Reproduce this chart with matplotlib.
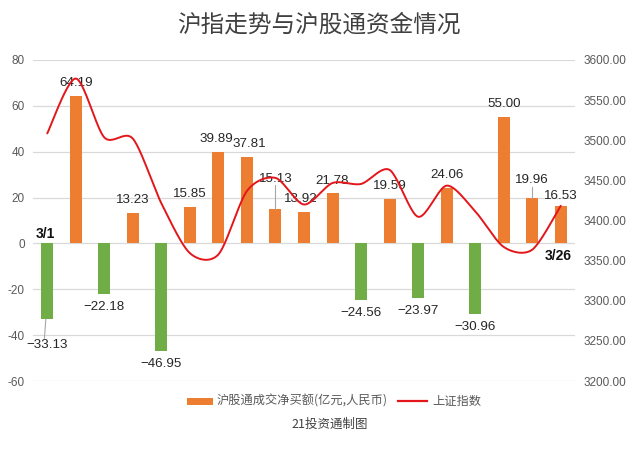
import numpy as np
import matplotlib
matplotlib.use("Agg")
import matplotlib.pyplot as plt
from matplotlib.patches import Rectangle
from matplotlib.lines import Line2D

plt.rcParams['font.family'] = ['Noto Sans CJK SC', 'DejaVu Sans']
plt.rcParams['axes.unicode_minus'] = False

# ---- data ----
flows = [-33.13, 64.19, -22.18, 13.23, -46.95, 15.85, 39.89, 37.81, 15.13, 13.92,
         21.78, -24.56, 19.59, -23.97, 24.06, -30.96, 55.00, 19.96, 16.53]
index_vals = [3508.59, 3576.90, 3503.49, 3501.99, 3421.41, 3359.29, 3357.74, 3436.83,
              3453.08, 3419.95, 3446.73, 3445.55, 3463.07, 3404.66, 3443.44, 3411.51,
              3367.06, 3363.59, 3418.33]
flow_labels = ["\u221233.13", "64.19", "\u221222.18", "13.23", "\u221246.95", "15.85", "39.89",
               "37.81", "15.13", "13.92", "21.78", "\u221224.56", "19.59", "\u221223.97",
               "24.06", "\u221230.96", "55.00", "19.96", "16.53"]
first_date = "3/1"
last_date = "3/26"
left_ticks = [-60, -40, -20, 0, 20, 40, 60, 80]
right_ticks = [3200, 3250, 3300, 3350, 3400, 3450, 3500, 3550, 3600]
title = "沪指走势与沪股通资金情况"
bar_name = "沪股通成交净买额(亿元,人民币)"
line_name = "上证指数"
source = "21投资通制图"

ORANGE = "#ED7D31"
GREEN = "#70AD47"
RED = "#E3161B"
GRID = "#D9D9D9"
TXT = "#595959"
NUM = ['Liberation Sans', 'DejaVu Sans']

W, H = 633, 450
fig = plt.figure(figsize=(W / 100, H / 100), dpi=100)
fig.patch.set_facecolor("white")
ax = fig.add_axes([33 / W, 69 / H, 542 / W, 321 / H])
ax2 = ax.twinx()

n = len(flows)
x = np.arange(n)
colors = [ORANGE if v >= 0 else GREEN for v in flows]
ax.bar(x, flows, width=0.42, color=colors, zorder=2)

ax.set_xlim(-0.5, n - 0.5)
ax.set_ylim(-60, 80)
ax.set_yticks(left_ticks)
ax.yaxis.grid(True, color=GRID, linewidth=0.9, zorder=0)
ax.set_axisbelow(True)
ax.set_xticks([])
for s in ax.spines.values():
    s.set_visible(False)
for s in ax2.spines.values():
    s.set_visible(False)
ax.tick_params(axis='y', length=0, labelsize=8.5, labelcolor=TXT, pad=6)
for t in ax.get_yticklabels():
    t.set_family(NUM)

# secondary axis
ax2.set_ylim(3200, 3600)
ax2.set_yticks(right_ticks)
ax2.set_yticklabels([f"{v:.2f}" for v in right_ticks])
ax2.tick_params(axis='y', length=0, labelsize=8.5, labelcolor=TXT, pad=6)
for t in ax2.get_yticklabels():
    t.set_family(NUM)

# smooth rendering of the index line (cardinal spline through the data points)
pts = np.array(index_vals, dtype=float)
xs, ys = [], []
P = np.concatenate([[pts[0]], pts, [pts[-1]]])
Xp = np.concatenate([[x[0]], x, [x[-1]]]).astype(float)
tau = 0.42
for i in range(1, len(P) - 2):
    t = np.linspace(0, 1, 24, endpoint=False)
    def seg(a0, a1, a2, a3):
        m1 = tau * (a2 - a0)
        m2 = tau * (a3 - a1)
        h00 = 2 * t ** 3 - 3 * t ** 2 + 1
        h10 = t ** 3 - 2 * t ** 2 + t
        h01 = -2 * t ** 3 + 3 * t ** 2
        h11 = t ** 3 - t ** 2
        return h00 * a1 + h10 * m1 + h01 * a2 + h11 * m2
    xs.extend(seg(Xp[i - 1], Xp[i], Xp[i + 1], Xp[i + 2]))
    ys.extend(seg(P[i - 1], P[i], P[i + 1], P[i + 2]))
xs.append(x[-1]); ys.append(pts[-1])
ax2.plot(xs, ys, color=RED, linewidth=1.4, zorder=3, solid_capstyle="round")

# data labels
for i, (v, lab) in enumerate(zip(flows, flow_labels)):
    if v >= 0:
        y = v + 3.0
        va = "bottom"
    else:
        y = v - 3.0
        va = "top"
    dx = 0
    if i == 0:
        y = v - 8.5
    if i == 6:
        dx = -0.06
    if i == 7:
        dx = 0.08
    if i == 8:
        y = v + 10.5
    if i == 9:
        dx = -0.1
    if i == 17:
        y = v + 5.0
    if i == 18:
        y = v + 1.5
    ax.text(i + dx, y, lab, ha="center", va=va, fontsize=9.6, color="#262626", zorder=5,
            family=NUM)
    if i in (0, 8, 17):
        if v < 0:
            ax.plot([i - 0.1, i - 0.05], [y + 0.3, v], color="#A6A6A6", lw=0.8, zorder=4)
        else:
            ax.plot([i, i], [v, y - 0.3], color="#A6A6A6", lw=0.8, zorder=4)

ax.text(0 - 0.05, 1.2, first_date, ha="center", va="bottom", fontsize=10, fontweight="bold",
        color="#111111", zorder=5, family=NUM)
ax.text(n - 1 - 0.1, -2.5, last_date, ha="center", va="top", fontsize=10, fontweight="bold",
        color="#111111", zorder=5, family=NUM)

# title
fig.text(319 / W, 1 - 25 / H, title, ha="center", va="center", fontsize=17, color="#404040")

# legend (manual)
ly = 1 - 401 / H
fig.patches.append(Rectangle((187 / W, ly - 3.5 / H), 26 / W, 7 / H, transform=fig.transFigure,
                             facecolor=ORANGE, edgecolor="none"))
fig.text(217 / W, ly, bar_name, ha="left", va="center", fontsize=8.8, color=TXT)
fig.lines.append(Line2D([398 / W, 427 / W], [ly, ly], transform=fig.transFigure, color=RED, lw=1.6))
fig.text(432 / W, ly, line_name, ha="left", va="center", fontsize=8.8, color=TXT)

fig.text(330 / W, 1 - 424 / H, source, ha="center", va="center", fontsize=9, color="#404040")

fig.savefig("out.png", dpi=100, facecolor="white")
